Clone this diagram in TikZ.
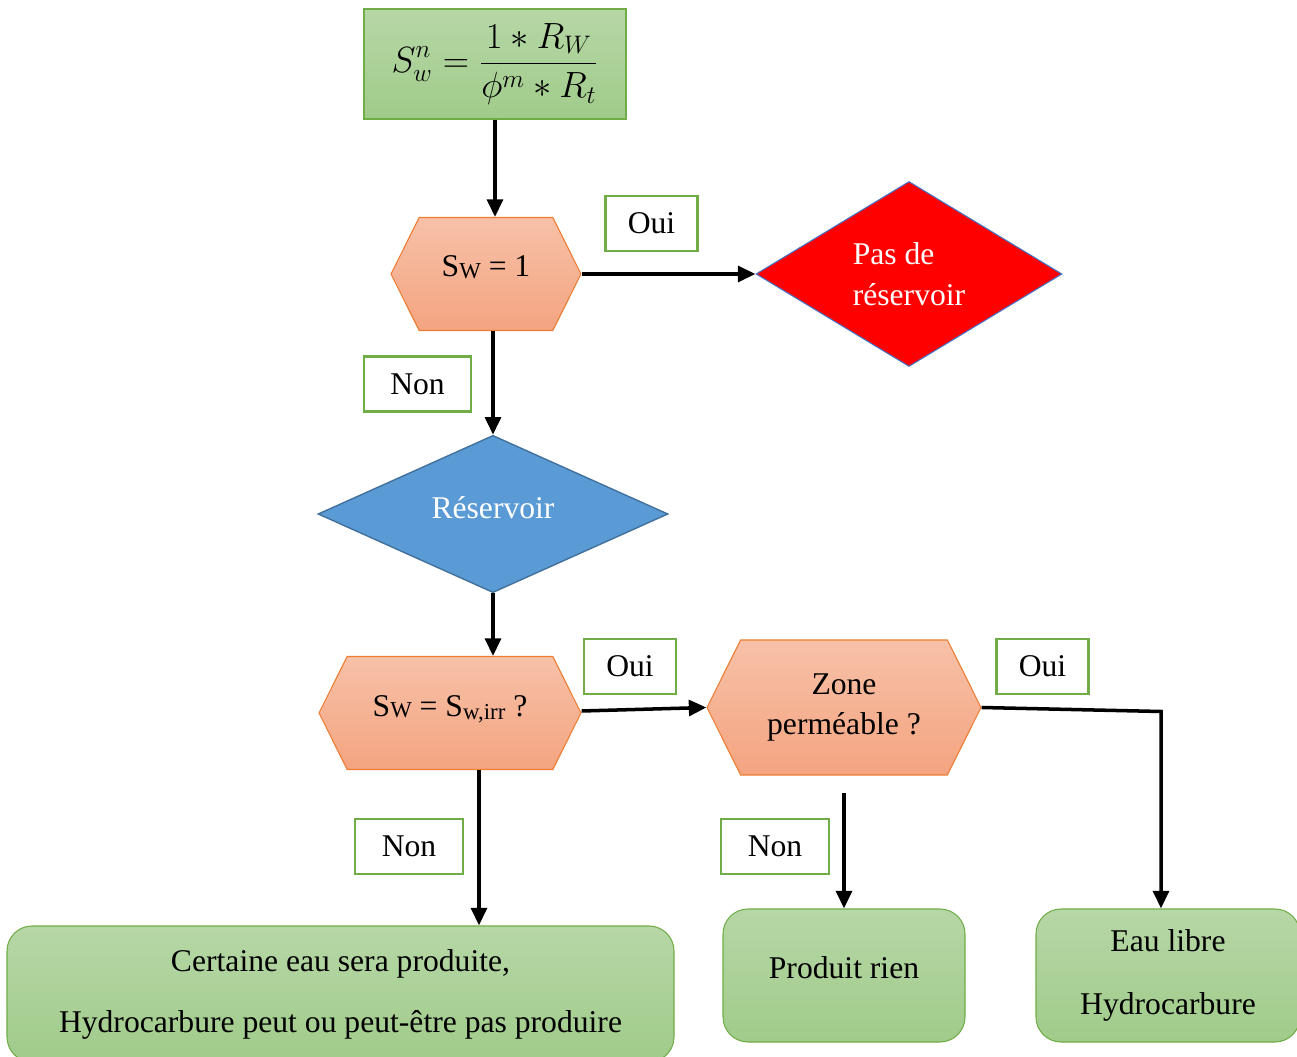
\documentclass[tikz,border=0pt]{standalone}
\usepackage{fontspec}
\setmainfont{Liberation Serif}
\usetikzlibrary{shapes.geometric,shapes.symbols,arrows.meta}

\definecolor{boxgreen}{RGB}{112,173,71}
\definecolor{greentop}{RGB}{182,215,166}
\definecolor{greenbot}{RGB}{160,203,138}
\definecolor{hexborder}{RGB}{237,125,49}
\definecolor{hextop}{RGB}{247,193,168}
\definecolor{hexbot}{RGB}{244,164,128}
\definecolor{resblue}{RGB}{91,155,213}
\definecolor{resborder}{RGB}{65,113,156}
\definecolor{pasborder}{RGB}{68,114,196}

% S with a small W
\newcommand{\SW}{S\lower1pt\hbox{\fontsize{13}{13}\selectfont W}}
\newcommand{\Swirr}{S\lower2pt\hbox{\fontsize{13}{13}\selectfont w,irr}}

\begin{document}
\begin{tikzpicture}[
    every node/.style={font=\fontsize{18}{23}\selectfont},
    greenbox/.style={draw=boxgreen, line width=0.6pt, top color=greentop, bottom color=greenbot, inner sep=0pt, align=center},
    hexbox/.style={shape=signal, signal to=west and east, signal pointer angle=127, draw=hexborder, line width=0.6pt,
        top color=hextop, bottom color=hexbot, inner sep=0pt, align=center},
    choice/.style={draw=boxgreen, line width=1.2pt, fill=white, minimum width=1.84cm, minimum height=1.1cm, inner sep=0pt},
    flow/.style={line width=2pt, -{Triangle[length=10pt,width=9pt]}}
]
    \useasboundingbox (0,0) rectangle (25.94,-21.14);

    % Formula
    \node[greenbox, minimum width=5.24cm, minimum height=2.2cm, font=\fontsize{20}{24}\selectfont] (formula) at (9.9,-1.28)
        {$\displaystyle S_w^n = \frac{1 * R_W}{\phi^m * R_t}$};

    % Decisions
    \node[hexbox, minimum width=3.8cm, minimum height=2.26cm] (sw1) at (9.72,-5.48) {\raisebox{8.5pt}{\SW{} = 1}};
    \node[diamond, draw=pasborder, fill=red, text=white, align=left, minimum width=6.12cm, minimum height=3.7cm,
        inner sep=0pt, line width=0.6pt] (pas) at (18.18,-5.48) {Pas de\\réservoir};
    \node[diamond, draw=resborder, fill=resblue, text=white, minimum width=7cm, minimum height=3.14cm,
        inner sep=0pt, line width=0.8pt] (res) at (9.86,-10.28) {\raisebox{7pt}{Réservoir}};
    \node[hexbox, minimum width=5.24cm, minimum height=2.26cm] (swirr) at (9.0,-14.26) {\raisebox{8.5pt}{\SW{} = \Swirr{} ?}};
    \node[hexbox, minimum width=5.48cm, minimum height=2.7cm] (zone) at (16.88,-14.15) {Zone\\perméable ?};

    % Results
    \node[greenbox, rounded corners=0.5cm, minimum width=13.34cm, minimum height=2.72cm,
        font=\fontsize{18}{34.7}\selectfont] (certaine) at (6.81,-19.88)
        {Certaine eau sera produite,\\Hydrocarbure peut ou peut-être pas produire};
    \node[greenbox, rounded corners=0.5cm, minimum width=4.84cm, minimum height=2.66cm] (produit) at (16.88,-19.51)
        {\raisebox{0.3cm}{Produit rien}};
    \node[greenbox, rounded corners=0.5cm, minimum width=5.28cm, minimum height=2.66cm,
        font=\fontsize{18}{35.5}\selectfont] (eau) at (23.36,-19.51)
        {\raisebox{-0.1cm}{Eau libre}\\\raisebox{-0.1cm}{Hydrocarbure}};

    % Oui / Non labels
    \node[choice] (oui1) at (13.03,-4.47) {Oui};
    \node[choice, minimum width=2.14cm] (non1) at (8.35,-7.68) {Non};
    \node[choice] (oui2) at (12.6,-13.33) {Oui};
    \node[choice] (oui3) at (20.85,-13.33) {Oui};
    \node[choice, minimum width=2.16cm] (non2) at (8.18,-16.93) {Non};
    \node[choice, minimum width=2.16cm] (non3) at (15.5,-16.93) {Non};

    % Arrows
    \draw[flow] (formula.south) -- (formula.south |- sw1.north);
    \draw[flow] (sw1.east) -- (pas.west);
    \draw[flow] (res.north |- sw1.south) -- (res.north);
    \draw[flow] (res.south) -- (res.south |- swirr.north);
    \draw[flow] ([yshift=0.04cm]swirr.east) -- (zone.west);
    \draw[flow] ([xshift=0.58cm]swirr.south) -- ([xshift=0.58cm]swirr.south |- certaine.north);
    \coordinate (zbelow) at ([yshift=-0.34cm]zone.south);
    \draw[flow] (zbelow) -- (produit.north);
    \draw[flow] (zone.east) -- ([xshift=-0.14cm,yshift=-0.08cm]eau.north |- zone.east) -- ([xshift=-0.14cm]eau.north);
\end{tikzpicture}
\end{document}
